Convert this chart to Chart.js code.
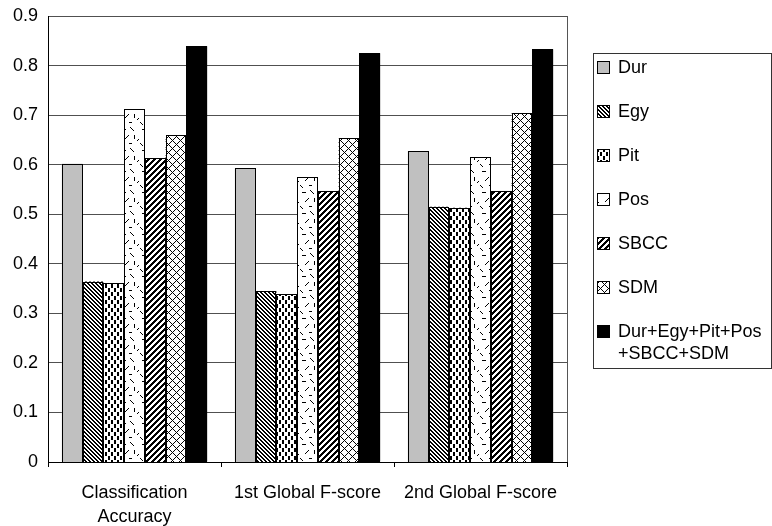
<!DOCTYPE html>
<html>
<head>
<meta charset="utf-8">
<script src="https://cdn.jsdelivr.net/npm/chart.js@4.4.1/dist/chart.umd.min.js"></script>
<style>
  html, body { margin: 0; padding: 0; background: #fff; }
  #wrap { width: 772px; height: 526px; position: relative; }
</style>
</head>
<body>
<div id="wrap"><canvas id="c"></canvas></div>
<script>
// Categories, series and axis ticks
const categories = [['Classification', 'Accuracy'], '1st Global F-score', '2nd Global F-score'];
const seriesNames = ['Dur', 'Egy', 'Pit', 'Pos', 'SBCC', 'SDM', 'Dur+Egy+Pit+Pos\n+SBCC+SDM'];
const durValues      = [0.602, 0.593, 0.627];
const egyValues      = [0.364, 0.345, 0.515];
const pitValues      = [0.361, 0.339, 0.513];
const posValues      = [0.712, 0.575, 0.615];
const sbccValues     = [0.613, 0.547, 0.547];
const sdmValues      = [0.660, 0.653, 0.704];
const combinedValues = [0.839, 0.825, 0.833];
const yTicks = [0, 0.1, 0.2, 0.3, 0.4, 0.5, 0.6, 0.7, 0.8, 0.9];

const FONT = '"Liberation Sans", Arial, sans-serif';

// ---- fill patterns (black on white, pixel tiles) ----
const tmpCtx = document.createElement('canvas').getContext('2d');
function tile(w, h, isInk) {
  const cv = document.createElement('canvas');
  cv.width = w; cv.height = h;
  const g = cv.getContext('2d');
  g.fillStyle = '#fff';
  g.fillRect(0, 0, w, h);
  g.fillStyle = '#000';
  for (let y = 0; y < h; y++)
    for (let x = 0; x < w; x++)
      if (isInk(x, y)) g.fillRect(x, y, 1, 1);
  return tmpCtx.createPattern(cv, 'repeat');
}
const mod = (a, n) => ((a % n) + n) % n;

const egyFill  = tile(8, 8, (x, y) => mod(x - y, 4) < 2);          // dense "\" stripes
const sbccFill = tile(6, 6, (x, y) => mod(x + y, 6) < 3);          // wide "/" stripes
const sdmFill  = tile(8, 8, (x, y) => mod(x + y, 8) === 0 || mod(x - y, 8) === 0); // diagonal crosshatch
const pitFill  = tile(6, 8, (x, y) =>
  (x <= 1 && y >= 0 && y <= 3) || (x >= 3 && x <= 4 && y >= 4 && y <= 7)); // staggered dashes
const posDots = new Set([
  '2,3', '3,3', '4,3', '5,3',
  '10,1', '11,2', '12,3', '13,4',
  '14,9', '14,10', '14,11', '14,12',
  '5,12', '6,11', '7,10', '8,9',
  '9,17', '10,17', '11,17',
  '1,18', '2,19', '0,17',
  '17,14', '18,13'
]);
const posFill  = tile(20, 21, (x, y) => posDots.has(x + ',' + y)); // scattered short dashes

const fills = ['#c0c0c0', egyFill, pitFill, posFill, sbccFill, sdmFill, '#000'];
const seriesValues = [durValues, egyValues, pitValues, posValues, sbccValues, sdmValues, combinedValues];

const datasets = seriesNames.map((name, i) => ({
  label: name,
  data: seriesValues[i],
  backgroundColor: fills[i],
  borderColor: '#000',
  borderWidth: 0,
  categoryPercentage: 0.84,
  barPercentage: 1.0
}));

// Repaint each bar on whole pixels with a crisp 1px black outline
const crispBars = {
  id: 'crispBars',
  afterDatasetsDraw(chart) {
    const ctx = chart.ctx;
    ctx.save();
    chart.data.datasets.forEach((ds, i) => {
      chart.getDatasetMeta(i).data.forEach(bar => {
        const p = bar.getProps(['x', 'y', 'base', 'width'], true);
        const l = Math.round(p.x - p.width / 2);
        const r = Math.round(p.x + p.width / 2);
        const t = Math.round(p.y);
        const b = Math.round(p.base);
        ctx.fillStyle = ds.backgroundColor;
        ctx.fillRect(l, t, r - l, b - t);
        ctx.strokeStyle = '#000';
        ctx.lineWidth = 1;
        ctx.strokeRect(l + 0.5, t + 0.5, r - l - 1, b - t);
      });
    });
    ctx.restore();
  }
};

// Right frame line of the plot area
const frameLine = {
  id: 'frameLine',
  afterDraw(chart) {
    const { ctx, chartArea: a } = chart;
    ctx.save();
    ctx.strokeStyle = '#555';
    ctx.lineWidth = 1;
    ctx.beginPath();
    ctx.moveTo(Math.round(a.right) + 0.5, a.top);
    ctx.lineTo(Math.round(a.right) + 0.5, a.bottom);
    ctx.stroke();
    ctx.restore();
  }
};

// Boxed legend at the right, supporting two-line labels
const boxLegend = {
  id: 'boxLegend',
  afterDraw(chart) {
    const ctx = chart.ctx;
    const bx = 593.5, by = 53.5, bw = 178, bh = 315;
    ctx.save();
    ctx.strokeStyle = '#333';
    ctx.lineWidth = 1;
    ctx.strokeRect(bx, by, bw, bh);
    ctx.font = '18px ' + FONT;
    ctx.textBaseline = 'middle';
    chart.data.datasets.forEach((ds, i) => {
      const cy = 68 + i * 44;
      ctx.fillStyle = ds.backgroundColor;
      ctx.fillRect(598, cy - 6, 11, 11);
      ctx.strokeStyle = '#000';
      ctx.strokeRect(597.5, cy - 6.5, 12, 12);
      ctx.fillStyle = '#000';
      ds.label.split('\n').forEach((line, k) => {
        ctx.fillText(line, 618, cy + k * 22);
      });
    });
    ctx.restore();
  }
};

new Chart(document.getElementById('c'), {
  type: 'bar',
  data: { labels: categories, datasets },
  options: {
    responsive: true,
    maintainAspectRatio: false,
    animation: false,
    layout: { padding: { top: 16, right: 205, left: 0, bottom: 0 } },
    plugins: { legend: { display: false }, tooltip: { enabled: false } },
    scales: {
      x: {
        grid: {
          offset: true,
          drawOnChartArea: false,
          drawTicks: true,
          tickLength: 5,
          color: '#000'
        },
        border: { color: '#000', width: 1 },
        ticks: {
          color: '#000',
          font: { family: FONT, size: 18, lineHeight: 1.33 },
          padding: 14,
          maxRotation: 0,
          autoSkip: false
        },
        afterFit(scale) { scale.height = 64; }
      },
      y: {
        min: 0,
        max: 0.9,
        afterBuildTicks(scale) { scale.ticks = yTicks.map(v => ({ value: v })); },
        grid: { color: '#505050', drawTicks: false },
        border: { color: '#000', width: 1 },
        ticks: {
          color: '#000',
          font: { family: FONT, size: 18 },
          padding: 10,
          callback: v => String(+v.toFixed(1))
        },
        afterFit(scale) {
          scale.width = 48;
          scale.paddingTop = 0;
          scale.paddingBottom = 0;
        }
      }
    }
  },
  plugins: [crispBars, frameLine, boxLegend]
});
</script>
</body>
</html>
